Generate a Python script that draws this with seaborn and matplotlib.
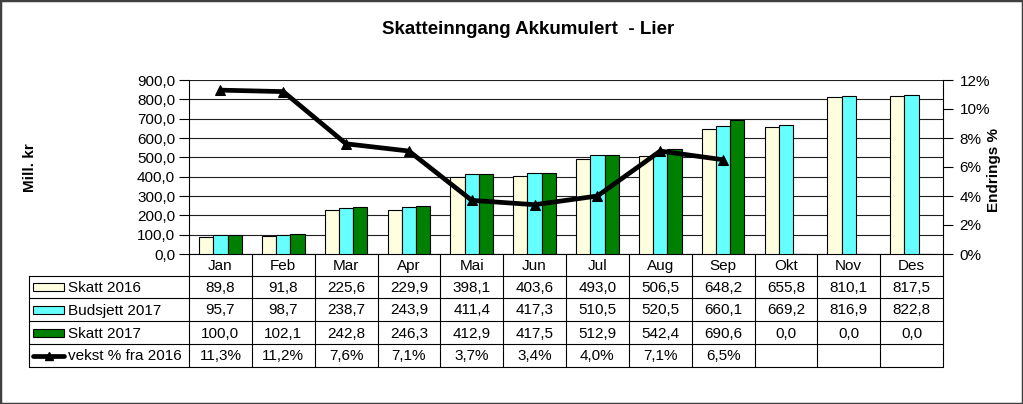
import numpy as np
import pandas as pd
import matplotlib
matplotlib.use("Agg")
import matplotlib.pyplot as plt
import seaborn as sns
from matplotlib.patches import Rectangle
from matplotlib.ticker import FuncFormatter, MultipleLocator

# ---------------- data ----------------
months = ["Jan", "Feb", "Mar", "Apr", "Mai", "Jun", "Jul", "Aug", "Sep", "Okt", "Nov", "Des"]
skatt_2016 = [89.8, 91.8, 225.6, 229.9, 398.1, 403.6, 493.0, 506.5, 648.2, 655.8, 810.1, 817.5]
budsjett_2017 = [95.7, 98.7, 238.7, 243.9, 411.4, 417.3, 510.5, 520.5, 660.1, 669.2, 816.9, 822.8]
skatt_2017 = [100.0, 102.1, 242.8, 246.3, 412.9, 417.5, 512.9, 542.4, 690.6, 0.0, 0.0, 0.0]
vekst = [11.3, 11.2, 7.6, 7.1, 3.7, 3.4, 4.0, 7.1, 6.5]

series_names = ["Skatt 2016", "Budsjett 2017", "Skatt 2017"]
line_name = "vekst % fra 2016"
title = "Skatteinngang Akkumulert  - Lier"
ylabel_left = "Mill. kr"
ylabel_right = "Endrings %"

colors = ["#FFFFE0", "#66FFFF", "#008000"]

# ---------------- setup ----------------
sns.set_theme(style="white")
plt.rcParams["font.family"] = ["Liberation Sans", "DejaVu Sans"]
plt.rcParams["text.color"] = "black"
plt.rcParams["axes.labelcolor"] = "black"
plt.rcParams["xtick.color"] = "black"
plt.rcParams["ytick.color"] = "black"

W, H = 1023, 404
fig = plt.figure(figsize=(W / 100, H / 100), dpi=100)
fig.patch.set_facecolor("white")

px_left, px_right, px_top, px_bottom = 189, 943, 80, 254
ax = fig.add_axes([px_left / W, 1 - px_bottom / H,
                   (px_right - px_left) / W, (px_bottom - px_top) / H])

df = pd.DataFrame({
    "Måned": months * 3,
    "Serie": sum([[s] * len(months) for s in series_names], []),
    "Verdi": skatt_2016 + budsjett_2017 + skatt_2017,
})

sns.barplot(data=df, x="Måned", y="Verdi", hue="Serie", order=months,
            hue_order=series_names, palette=colors, saturation=1,
            width=0.68, edgecolor="black", linewidth=0.8, legend=False, ax=ax,
            zorder=3)

fs = 11
ax.set_ylim(0, 900)
ax.yaxis.set_major_locator(MultipleLocator(100))
ax.yaxis.set_major_formatter(FuncFormatter(lambda v, p: f"{v:.1f}".replace(".", ",")))
ax.yaxis.grid(True, color="#202020", linewidth=0.8)
ax.set_axisbelow(True)
ax.set_xlabel("")
ax.set_ylabel(ylabel_left, fontsize=11, fontweight="bold")
ax.yaxis.set_label_coords(-0.2016, 0.494)
ax.tick_params(axis="x", length=0, labelbottom=False)
ax.tick_params(axis="y", direction="out", length=7, width=0.8, labelsize=fs, pad=3, left=True)
for s in ["top", "right"]:
    ax.spines[s].set_visible(False)
for s in ["left", "bottom"]:
    ax.spines[s].set_color("black")
    ax.spines[s].set_linewidth(0.8)

ax2 = ax.twinx()
sns.lineplot(x=np.arange(len(vekst)), y=vekst, ax=ax2, color="black",
             linewidth=3.4, marker="^", markersize=7, markeredgecolor="black",
             markerfacecolor="black", zorder=5)
ax2.set_ylim(0, 12)
ax2.yaxis.set_major_locator(MultipleLocator(2))
ax2.yaxis.set_major_formatter(FuncFormatter(lambda v, p: f"{v:.0f}%"))
ax2.set_ylabel(ylabel_right, fontsize=11, fontweight="bold")
ax2.yaxis.set_label_coords(1.0584, 0.483)
ax2.tick_params(axis="y", direction="out", length=7, width=0.8, labelsize=fs, pad=5, right=True)
ax2.tick_params(axis="x", length=0, labelbottom=False)
for s in ["top", "left", "bottom"]:
    ax2.spines[s].set_visible(False)
ax2.spines["right"].set_color("black")
ax2.spines["right"].set_linewidth(0.8)
ax.set_xlim(-0.5, len(months) - 0.5)
ax2.set_xlim(-0.5, len(months) - 0.5)

# ---------------- title ----------------
fig.text(528 / W, 1 - 29 / H, title, ha="center", va="center",
         fontsize=13.5, fontweight="bold")

# ---------------- data table ----------------
tab = fig.add_axes([0, 0, 1, 1])
tab.set_xlim(0, W)
tab.set_ylim(H, 0)
tab.axis("off")
tab.patch.set_alpha(0)

n = len(months)
col_w = (px_right - px_left) / n
rows = [254, 276, 298, 321, 344, 367]
lab_left = 29
lc = "black"
lw = 0.8

for y in rows[1:]:
    tab.plot([lab_left, px_right], [y, y], color=lc, lw=lw)
tab.plot([lab_left, lab_left], [rows[1], rows[-1]], color=lc, lw=lw)
for i in range(n + 1):
    x = px_left + i * col_w
    tab.plot([x, x], [rows[0], rows[-1]], color=lc, lw=lw)

for i, m in enumerate(months):
    tab.text(px_left + (i + 0.5) * col_w, (rows[0] + rows[1]) / 2 + 1, m,
             ha="center", va="center", fontsize=fs)

row_vals = [skatt_2016, budsjett_2017, skatt_2017]
for r, (name, vals, c) in enumerate(zip(series_names, row_vals, colors)):
    yc = (rows[r + 1] + rows[r + 2]) / 2
    tab.add_patch(Rectangle((33, yc - 4), 31, 8, facecolor=c, edgecolor="black", lw=0.8))
    tab.text(68, yc + 1, name, ha="left", va="center", fontsize=fs)
    for i, v in enumerate(vals):
        tab.text(px_left + (i + 0.5) * col_w, yc + 1, f"{v:.1f}".replace(".", ","),
                 ha="center", va="center", fontsize=fs)

yc = (rows[4] + rows[5]) / 2
tab.plot([33, 64], [yc, yc], color="black", lw=3.4, solid_capstyle="round")
tab.plot([48.5], [yc], marker="^", color="black", markersize=6)
tab.text(68, yc + 1, line_name, ha="left", va="center", fontsize=fs)
for i, v in enumerate(vekst):
    tab.text(px_left + (i + 0.5) * col_w, yc + 1, f"{v:.1f}%".replace(".", ","),
             ha="center", va="center", fontsize=fs)

# ---------------- outer border ----------------
fig.patches.append(Rectangle((0, 0), 1, 1, transform=fig.transFigure, fill=False,
                             edgecolor="#404040", linewidth=2.5))

fig.savefig("out.png", dpi=100)
